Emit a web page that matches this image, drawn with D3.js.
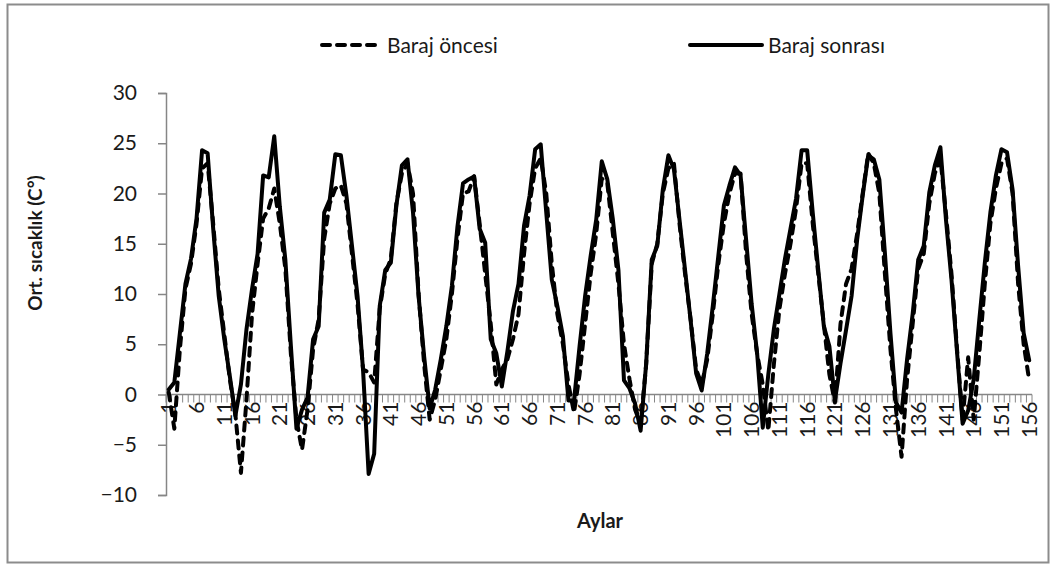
<!DOCTYPE html>
<html>
<head>
<meta charset="utf-8">
<script src="https://cdn.jsdelivr.net/npm/d3@7"></script>
<style>
  body { margin: 0; background: #fff; }
  svg { display: block; }
  text { font-family: Lato, "Noto Sans", sans-serif; fill: #1a1a1a; }
</style>
</head>
<body>
<div id="chart"></div>
<script>
// months 1..156
const months = d3.range(1, 157);

// Baraj öncesi (dashed)
const barajOncesi = [
  0.2, -3.4, 4.5, 10.5, 13, 17, 22.5, 23, 17, 10.5, 6, 1.5,
  -2, -7.8, -0.5, 8, 13, 17.5, 18.5, 20.5, 17, 12.5, 4, -2.5,
  -5.5, -1.5, 4.5, 7.5, 15.5, 19, 20.5, 20.8, 19, 14, 9, 2.5,
  2.2, 1.2, 8.5, 12, 13.5, 19, 22, 23, 20, 10, 3, -2.5,
  -0.5, 2.5, 5.5, 10, 15.5, 20, 20.2, 21.7, 17, 12, 7, 1,
  2.5, 3.5, 5.5, 8, 14, 19, 22.5, 23.5, 20, 13, 8, 5,
  1, -1.8, 2, 7, 12, 16, 21.5, 21, 16, 11, 5, 1.5,
  -1.5, -3, 3, 13, 15, 20, 22.5, 23, 17, 12, 7.5, 2.5,
  1, 3.5, 8, 13, 17, 20, 22, 22, 14, 8, 4, 1,
  -3.6, 3, 8.5, 12, 15, 18.5, 23, 23, 17, 12, 7, 2,
  -0.8, 7, 11, 12.5, 16, 20, 24, 23, 20, 12, 4.5, -1.5,
  -6.2, 1.5, 7, 12.5, 14, 19, 22, 23.5, 18, 12, 4.5, -2.5,
  3.7, -2.5, 4, 11, 17, 20.5, 23, 23.5, 20, 11, 5, 1.4
];

// Baraj sonrası (solid)
const barajSonrasi = [
  0.5, 1.2, 6.1, 11, 13.5, 17.5, 24.3, 24, 16.5, 9.8, 5.5, 1.8,
  -2.1, 1, 6.5, 10.5, 14, 21.8, 21.6, 25.7, 18.7, 13.4, 4.8, -3.4,
  -1.5, -0.3, 5.5, 6.8, 18.1, 19.4, 23.9, 23.8, 19.8, 14.8, 9.8, 2.4,
  -7.9, -5.9, 8.8, 12.4, 13.1, 18.8, 22.8, 23.4, 18.1, 9.8, 3.8, -1.4,
  0.5, 3.5, 6.8, 10.8, 16.7, 21, 21.4, 21.7, 16.5, 15.1, 5.5, 4.1,
  0.8, 4.3, 8.3, 11, 16.8, 19.8, 24.4, 24.9, 18.1, 11.4, 8.8, 5.8,
  -0.6, -0.6, 4.8, 9.8, 13.8, 17.4, 23.2, 21.4, 17.4, 12.4, 1.4, 0.6,
  -0.9, -3.6, 3.1, 13.4, 14.8, 20.4, 23.8, 22.4, 17.4, 12.4, 7.4, 2.1,
  0.4, 4.1, 8.8, 13.8, 18.8, 20.8, 22.6, 21.8, 15.4, 9, 4, -3.3,
  2, 6.5, 10, 13.5, 16.5, 19.5, 24.3, 24.3, 18.1, 12.4, 6.8, 4.8,
  -0.6, 3.1, 6.4, 9.8, 15.4, 19.8, 23.8, 23.4, 21.4, 14.1, 6.1, -0.8,
  -1.8, 3.5, 8, 13.4, 14.8, 20.1, 22.8, 24.6, 17.4, 11.4, 4.2, -2.9,
  -1.6, 1.5, 7.4, 13.1, 18.1, 21.8, 24.4, 24.1, 20.4, 12.8, 6.1, 3.4
];

const yTicks = [-10, -5, 0, 5, 10, 15, 20, 25, 30];
const xLabelMonths = months.filter(m => (m - 1) % 5 === 0);
const seriesNames = ['Baraj öncesi', 'Baraj sonrası'];

const width = 1057, height = 567;
const axisGrey = '#868686';

const svg = d3.select('#chart').append('svg')
  .attr('width', width)
  .attr('height', height);

// outer frame
svg.append('rect')
  .attr('x', 7.5).attr('y', 4.5)
  .attr('width', 1041).attr('height', 558)
  .attr('fill', '#fff')
  .attr('stroke', '#8c8c8c')
  .attr('stroke-width', 2);

// scales
const x = d3.scaleBand()
  .domain(months)
  .range([166, 1032]);

const y = d3.scaleLinear()
  .domain([-10, 30])
  .range([495, 93]);

const cx = m => x(m) + x.bandwidth() / 2;

// y axis
const yAxis = svg.append('g')
  .attr('transform', 'translate(166,0)')
  .call(d3.axisLeft(y).tickValues(yTicks).tickSize(8).tickPadding(21));
yAxis.select('.domain').attr('stroke', axisGrey).attr('stroke-width', 1.5);
yAxis.selectAll('.tick line').attr('stroke', axisGrey).attr('stroke-width', 1.5);
yAxis.selectAll('.tick text')
  .style('font-size', '21px')
  .style('font-family', 'Lato, sans-serif')
  .attr('fill', '#1a1a1a');

// x axis at zero, ticks between categories
const xg = svg.append('g').attr('transform', `translate(0,${y(0)})`);
xg.append('line')
  .attr('x1', x.range()[0]).attr('x2', x.range()[1])
  .attr('stroke', axisGrey).attr('stroke-width', 1.5);
xg.selectAll('line.cat-tick')
  .data(months.concat([null]))
  .enter().append('line')
  .attr('class', 'cat-tick')
  .attr('x1', d => d === null ? x.range()[1] : x(d))
  .attr('x2', d => d === null ? x.range()[1] : x(d))
  .attr('y1', 0).attr('y2', 8)
  .attr('stroke', axisGrey).attr('stroke-width', 1);

const xAxis = xg.append('g')
  .call(d3.axisBottom(x).tickValues(xLabelMonths).tickSize(0).tickPadding(0));
xAxis.select('.domain').remove();
xAxis.selectAll('.tick text')
  .attr('transform', 'translate(0,7) rotate(-90)')
  .attr('x', 0).attr('y', 0)
  .attr('dy', '0.36em')
  .style('text-anchor', 'end')
  .style('font-size', '21px')
  .style('font-family', 'Lato, sans-serif')
  .attr('fill', '#1a1a1a');

// lines
const line = d3.line()
  .x((d, i) => cx(months[i]))
  .y(d => y(d));

svg.append('path')
  .datum(barajOncesi)
  .attr('fill', 'none')
  .attr('stroke', '#000')
  .attr('stroke-width', 4)
  .attr('stroke-dasharray', '8,7')
  .attr('stroke-linecap', 'round')
  .attr('stroke-linejoin', 'round')
  .attr('d', line);

svg.append('path')
  .datum(barajSonrasi)
  .attr('fill', 'none')
  .attr('stroke', '#000')
  .attr('stroke-width', 4)
  .attr('stroke-linejoin', 'round')
  .attr('stroke-linecap', 'round')
  .attr('d', line);

// axis titles
svg.append('text')
  .attr('transform', 'translate(42,243) rotate(-90)')
  .attr('text-anchor', 'middle')
  .style('font-size', '19px')
  .style('font-weight', 'bold')
  .text('Ort. sıcaklık (C°)');

svg.append('text')
  .attr('x', 600).attr('y', 528)
  .attr('text-anchor', 'middle')
  .style('font-size', '20px')
  .style('font-weight', 'bold')
  .text('Aylar');

// legend
const legendItems = [
  { label: seriesNames[0], x1: 322, x2: 381, dash: '8,7' },
  { label: seriesNames[1], x1: 690, x2: 762, dash: null }
];
legendItems.forEach(item => {
  svg.append('line')
    .attr('x1', item.x1).attr('x2', item.x2)
    .attr('y1', 45).attr('y2', 45)
    .attr('stroke', '#000')
    .attr('stroke-width', 4)
    .attr('stroke-linecap', 'round')
    .attr('stroke-dasharray', item.dash);
  svg.append('text')
    .attr('x', item.x2 + 6).attr('y', 53)
    .style('font-size', '21px')
    .text(item.label);
});
</script>
</body>
</html>
